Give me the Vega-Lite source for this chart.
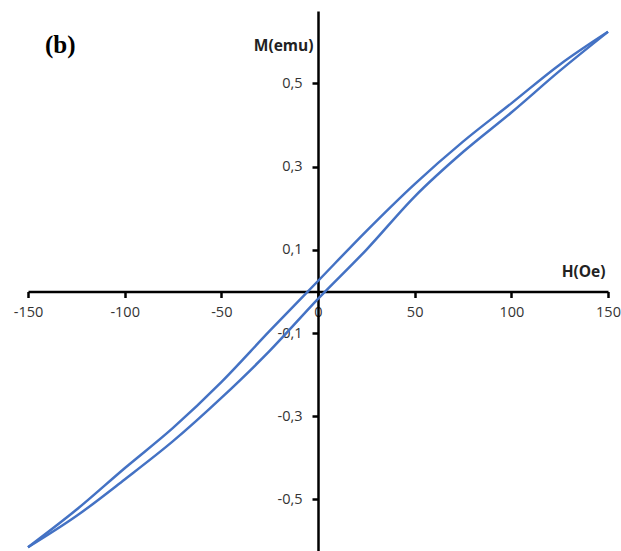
{
  "$schema": "https://vega.github.io/schema/vega-lite/v6.json",
  "width": 580,
  "height": 540,
  "autosize": {"type": "none"},
  "padding": {"left": 28, "top": 11, "right": 13, "bottom": 0},
  "background": "white",
  "config": {"view": {"stroke": null}},
  "title": {
    "text": "(b)",
    "anchor": "start",
    "frame": "group",
    "baseline": "top",
    "font": "Liberation Serif",
    "fontWeight": "bold",
    "fontSize": 25,
    "color": "#000000",
    "offset": 0,
    "dx": 17,
    "dy": 47
  },
  "data": {
    "values": [
      {"branch": "down", "i": 0, "H": 150, "M": 0.624},
      {"branch": "down", "i": 1, "H": 125, "M": 0.545},
      {"branch": "down", "i": 2, "H": 100, "M": 0.452},
      {"branch": "down", "i": 3, "H": 75, "M": 0.36},
      {"branch": "down", "i": 4, "H": 50, "M": 0.258},
      {"branch": "down", "i": 5, "H": 25, "M": 0.145},
      {"branch": "down", "i": 6, "H": 0, "M": 0.025},
      {"branch": "down", "i": 7, "H": -25, "M": -0.095},
      {"branch": "down", "i": 8, "H": -50, "M": -0.218},
      {"branch": "down", "i": 9, "H": -75, "M": -0.328},
      {"branch": "down", "i": 10, "H": -100, "M": -0.425},
      {"branch": "down", "i": 11, "H": -125, "M": -0.525},
      {"branch": "down", "i": 12, "H": -150, "M": -0.615},
      {"branch": "up", "i": 0, "H": -150, "M": -0.615},
      {"branch": "up", "i": 1, "H": -125, "M": -0.54},
      {"branch": "up", "i": 2, "H": -100, "M": -0.452},
      {"branch": "up", "i": 3, "H": -75, "M": -0.36},
      {"branch": "up", "i": 4, "H": -50, "M": -0.256},
      {"branch": "up", "i": 5, "H": -25, "M": -0.143},
      {"branch": "up", "i": 6, "H": 0, "M": -0.018},
      {"branch": "up", "i": 7, "H": 25, "M": 0.1},
      {"branch": "up", "i": 8, "H": 50, "M": 0.228},
      {"branch": "up", "i": 9, "H": 75, "M": 0.335},
      {"branch": "up", "i": 10, "H": 100, "M": 0.43},
      {"branch": "up", "i": 11, "H": 125, "M": 0.53},
      {"branch": "up", "i": 12, "H": 150, "M": 0.624}
    ]
  },
  "mark": {"type": "line", "color": "#4472C4", "strokeWidth": 2.5, "interpolate": "monotone", "clip": false},
  "encoding": {
    "x": {
      "field": "H",
      "type": "quantitative",
      "scale": {"domain": [-150, 150], "nice": false, "zero": false},
      "axis": {
        "orient": "bottom",
        "offset": -259.5,
        "values": [-150, -100, -50, 0, 50, 100, 150],
        "labelExpr": "replace(format(datum.value, 'd'), '\u2212', '-')",
        "grid": false,
        "domainColor": "#000000",
        "domainWidth": 2.5,
        "tickColor": "#000000",
        "tickWidth": 2.5,
        "tickSize": 6,
        "labelPadding": 8,
        "labelFont": "Open Sans",
        "labelFontSize": 14.5,
        "labelColor": "#333333",
        "labelFlush": false,
        "labelOverlap": false,
        "title": "H(Oe)",
        "titleFont": "Open Sans",
        "titleFontWeight": "bold",
        "titleFontSize": 15.5,
        "titleColor": "#222222",
        "titleX": 577,
        "titleY": -20,
        "titleAlign": "right",
        "titleBaseline": "middle",
        "titleAngle": 0
      }
    },
    "y": {
      "field": "M",
      "type": "quantitative",
      "scale": {"domain": [-0.624, 0.674], "nice": false, "zero": false},
      "axis": {
        "orient": "left",
        "offset": -290,
        "values": [-0.5, -0.3, -0.1, 0.1, 0.3, 0.5],
        "labelExpr": "replace(replace(format(datum.value, '.1f'), '.', ','), '\u2212', '-')",
        "grid": false,
        "domainColor": "#000000",
        "domainWidth": 2.5,
        "tickColor": "#000000",
        "tickWidth": 2.5,
        "tickSize": 6,
        "labelPadding": 10,
        "labelFont": "Open Sans",
        "labelFontSize": 14.5,
        "labelColor": "#333333",
        "labelFlush": false,
        "labelOverlap": false,
        "title": "M(emu)",
        "titleFont": "Open Sans",
        "titleFontWeight": "bold",
        "titleFontSize": 15.5,
        "titleColor": "#222222",
        "titleX": -5,
        "titleY": 34,
        "titleAlign": "right",
        "titleBaseline": "middle",
        "titleAngle": 0
      }
    },
    "detail": {"field": "branch"},
    "order": {"field": "i", "type": "quantitative"}
  }
}
